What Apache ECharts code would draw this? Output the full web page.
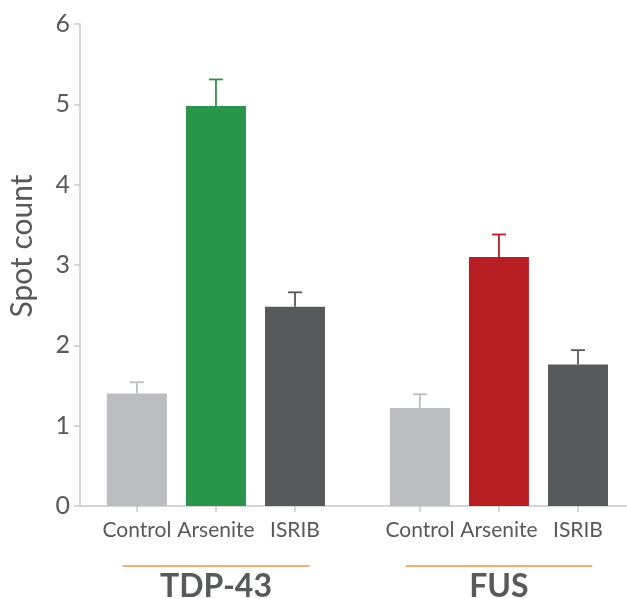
<!DOCTYPE html>
<html>
<head>
    <meta charset="utf-8">
    <title></title>
    <style>
        html,body{ margin:0; padding:0; background:#fff; }
    </style>
</head>
<body>
<script src="https://cdn.jsdelivr.net/npm/echarts@6/dist/echarts.min.js"></script>
<div id="main" style="width: 627px;height:599px;"></div>
<script type="text/javascript">
    // data
    var categories = ['Control', 'Arsenite', 'ISRIB'];
    var groups = ['TDP-43', 'FUS'];
    var tdpMeans = [1.40, 4.98, 2.48];
    var tdpErrors = [0.14, 0.33, 0.18];
    var fusMeans = [1.22, 3.10, 1.76];
    var fusErrors = [0.17, 0.28, 0.18];
    var yTicks = [0, 1, 2, 3, 4, 5, 6];

    var tdpColors = ['#bcbdc0', '#2a9448', '#58595b'];
    var fusColors = ['#bcbdc0', '#b81f24', '#58595b'];
    // where each group starts on the x scale (one unit = one bar slot)
    var groupStart = [0, 3.58];

    var textColor = '#58595b';
    var fontName = 'Lato';

    var myChart = echarts.init(document.getElementById('main'));

    var bars = [], errs = [], ticks = [], tickNames = [];
    [[tdpMeans, tdpErrors, tdpColors], [fusMeans, fusErrors, fusColors]].forEach(function (g, gi) {
        g[0].forEach(function (m, i) {
            var x = groupStart[gi] + i;
            bars.push({ value: [x, m], itemStyle: { color: g[2][i] } });
            errs.push({ value: [x, m, m + g[1][i]], itemStyle: { color: g[2][i] } });
            ticks.push(x);
            tickNames.push(categories[i]);
        });
    });
    var groupCenters = groupStart.map(function (s) { return s + 1; });

    function nameAt(list, names) {
        return function (v) {
            for (var i = 0; i < list.length; i++) {
                if (Math.abs(list[i] - v) < 0.01) return names[i];
            }
            return '';
        };
    }

    myChart.setOption({
        animation: false,
        grid: { left: 80, top: 24, right: 0, bottom: 93, outerBoundsMode: 'none', containLabel: false },
        xAxis: [{
            type: 'value',
            min: -0.72,
            max: 6.2,
            splitLine: { show: false },
            axisLine: { lineStyle: { color: '#c9c9c9', width: 1.5 } },
            axisTick: { show: true, customValues: ticks, length: 6, lineStyle: { color: '#c9c9c9', width: 1.5 } },
            axisLabel: {
                customValues: ticks,
                formatter: nameAt(ticks, tickNames),
                color: textColor, fontSize: 21, fontFamily: fontName, margin: 14
            }
        }, {
            type: 'value',
            position: 'bottom',
            min: -0.72,
            max: 6.2,
            splitLine: { show: false },
            axisLine: { show: false },
            axisTick: { show: false },
            axisLabel: {
                customValues: groupCenters,
                formatter: nameAt(groupCenters, groups),
                color: textColor, fontSize: 32, fontWeight: 'bold', fontFamily: fontName, margin: 65
            }
        }],
        yAxis: {
            type: 'value',
            min: 0,
            max: 6,
            interval: 1,
            name: 'Spot count',
            nameLocation: 'middle',
            nameRotate: 90,
            nameGap: 43,
            nameTextStyle: { color: textColor, fontSize: 30, fontFamily: fontName, padding: [0, 0, 0, 38] },
            splitLine: { show: false },
            axisLine: { show: true, onZero: false, lineStyle: { color: '#c9c9c9', width: 1.5 } },
            axisTick: { show: true, length: 6, lineStyle: { color: '#c9c9c9', width: 1.5 } },
            axisLabel: {
                formatter: function (v) { return yTicks.indexOf(v) >= 0 ? String(v) : ''; },
                color: textColor, fontSize: 25, fontFamily: fontName, margin: 10
            }
        },
        series: [{
            type: 'bar',
            barWidth: 60,
            data: bars,
            z: 2
        }, {
            type: 'custom',
            data: errs,
            z: 3,
            renderItem: function (params, api) {
                var base = api.coord([api.value(0), api.value(1)]);
                var top = api.coord([api.value(0), api.value(2)]);
                var color = api.visual('color');
                var st = { stroke: color, lineWidth: 1.8 };
                return {
                    type: 'group',
                    children: [
                        { type: 'line', shape: { x1: base[0], y1: base[1], x2: top[0], y2: top[1] }, style: st },
                        { type: 'line', shape: { x1: top[0] - 7, y1: top[1], x2: top[0] + 7, y2: top[1] }, style: st }
                    ]
                };
            }
        }]
    });

    // orange rules above the group names
    var lines = groupCenters.map(function (c) {
        var a = myChart.convertToPixel({ xAxisIndex: 0 }, c - 1.18);
        var b = myChart.convertToPixel({ xAxisIndex: 0 }, c + 1.18);
        return {
            type: 'line',
            shape: { x1: a, y1: 566, x2: b, y2: 566 },
            style: { stroke: '#f6ae74', lineWidth: 2 }
        };
    });
    myChart.setOption({ graphic: lines });
</script>
</body>
</html>
